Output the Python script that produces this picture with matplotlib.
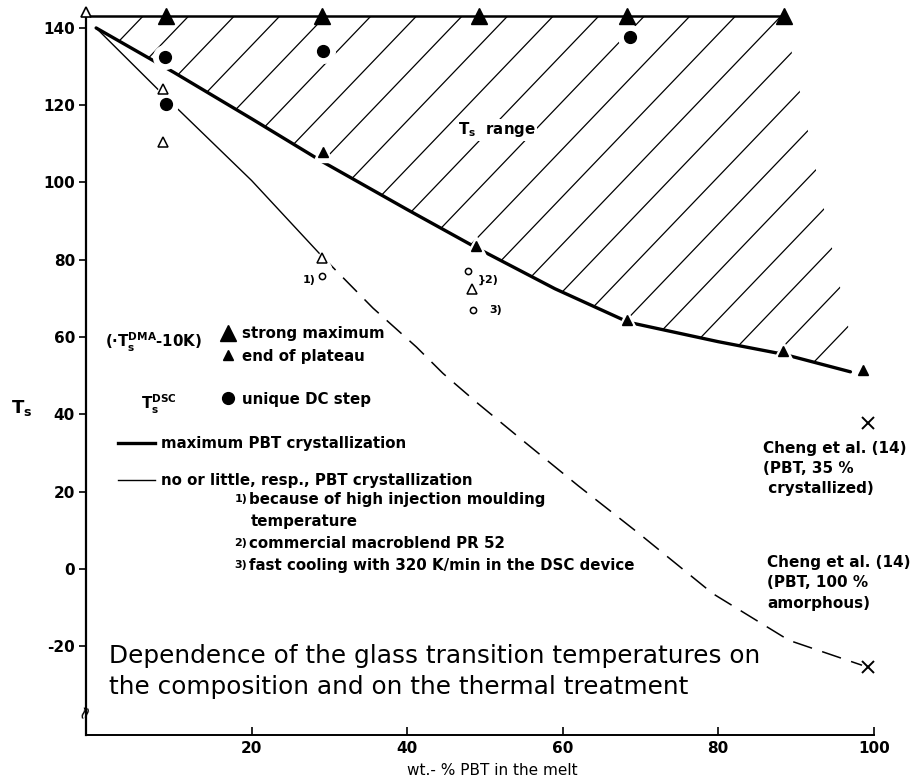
import numpy as np
import matplotlib
matplotlib.use('Agg')
import matplotlib.pyplot as plt
from matplotlib.patches import Polygon

plt.rcParams['font.family'] = ['DejaVu Sans']
plt.rcParams['mathtext.default'] = 'regular'
plt.rcParams['axes.unicode_minus'] = False

# DMA, strong maximum (upper limit of the Ts range)
x_strong = [9.0, 29.0, 49.2, 68.3, 88.5]
t_strong = [143, 143, 143, 143, 143]
# DMA, end of plateau
x_plateau = [29.2, 48.8, 68.3, 88.3, 98.6]
t_plateau = [108.0, 83.5, 64.5, 56.5, 51.5]
# DSC, unique DC step
x_dc = [8.9, 9.0, 29.2, 68.6]
t_dc = [132.5, 120.3, 134.0, 137.7]
# special samples (open symbols)
x_open_tri = [8.6, 8.6, 29.0, 48.3]
t_open_tri = [124.2, 110.5, 80.5, 72.5]
x_open_circ = [29.0, 47.8, 48.4]
t_open_circ = [75.8, 77.0, 67.0]
# Cheng et al. (14), pure PBT
x_cheng = [99.3, 99.3]
t_cheng = [37.7, -25.5]

# maximum PBT crystallization
x_max = [0, 10, 20, 29, 40, 49, 59, 68.5, 80, 88.5, 97]
t_max = [140, 128.5, 116.5, 105.5, 93, 83, 72.5, 63.8, 58.8, 55.5, 51]
# no or little crystallization
x_min = [0, 10, 20, 29]
t_min = [140, 120, 100.5, 81]
x_min_ext = [29, 35.6, 41.2, 44.6, 49.1, 55, 62, 69.9, 79.3, 89.1, 99.3]
t_min_ext = [81, 67.5, 57.4, 50.6, 42.8, 33, 21.5, 9.0, -6.4, -18.5, -25.5]

x_ticks = [20, 40, 60, 80, 100]
y_ticks = [140, 120, 100, 80, 60, 40, 20, 0, -20]

fig = plt.figure(figsize=(9.18, 7.82), dpi=100)
ax = fig.add_axes([0.0937, 0.0601, 0.892, 0.9338])
ax.set_xlim(-1.3, 104)
ax.set_ylim(-43, 146)

for s in ['top', 'right']:
    ax.spines[s].set_visible(False)
ax.spines['left'].set_bounds(-43, 143.5)
ax.spines['bottom'].set_bounds(-1.3, 100)
ax.spines['left'].set_linewidth(1.6)
ax.spines['bottom'].set_linewidth(1.4)

ax.set_xticks(x_ticks)
ax.set_yticks(y_ticks)
ax.tick_params(axis='x', direction='in', length=6, width=1.2, pad=4, labelsize=11)
ax.tick_params(axis='y', direction='out', length=5, width=1.2, pad=3, labelsize=11)
for lab in ax.get_xticklabels() + ax.get_yticklabels():
    lab.set_fontweight('bold')

# arrow head and axis break on the ordinate
ax.plot([-1.3], [144.2], marker='^', ms=7, mfc='white', mec='black', mew=1.2,
        clip_on=False, zorder=6)
ax.text(-1.3, -37, '\u2248', rotation=75, ha='center', va='center', fontsize=13,
        zorder=6)

# hatched Ts range
top_t = 143
region = Polygon(list(zip([0, 88.5, 97.5], [top_t, top_t, 55])) +
                 list(zip(x_max[::-1], t_max[::-1])),
                 closed=True, facecolor='none', edgecolor='none')
ax.add_patch(region)
slope = 2.1
for xt in np.arange(6, 142, 5.86):
    xs = np.array([xt - 70, xt + 5])
    ln, = ax.plot(xs, top_t + slope * (xs - xt), color='black', lw=0.9, zorder=1)
    ln.set_clip_path(region)

ax.plot(x_max, t_max, color='black', lw=2.4, solid_capstyle='round', zorder=2)
ax.plot(x_min, t_min, color='black', lw=1.0, zorder=2)
ax.plot(x_min_ext, t_min_ext, color='black', lw=1.1, ls=(0, (13, 7)), zorder=2)

# white halos break the lines around the symbols
halo = dict(color='white', ls='none', zorder=3)
ax.plot(x_plateau, t_plateau, marker='^', ms=14, **halo)
ax.plot(x_dc, t_dc, marker='o', ms=17, **halo)
ax.plot(x_open_tri, t_open_tri, marker='^', ms=13, **halo)
ax.plot(x_open_circ, t_open_circ, marker='o', ms=10, **halo)
ax.plot(x_cheng, t_cheng, marker='o', ms=9, **halo)

ax.plot([-0.6, x_strong[-1]], [top_t, top_t], color='black', lw=1.8, zorder=4)

ax.plot(x_strong, t_strong, ls='none', marker='^', ms=12, color='black', zorder=5)
ax.plot(x_plateau, t_plateau, ls='none', marker='^', ms=7.5, color='black', zorder=5)
ax.plot(x_dc, t_dc, ls='none', marker='o', ms=8.5, color='black', zorder=5)
ax.plot(x_open_tri, t_open_tri, ls='none', marker='^', ms=6.5, mfc='white',
        mec='black', mew=1.1, zorder=5)
ax.plot(x_open_circ, t_open_circ, ls='none', marker='o', ms=4.5, mfc='white',
        mec='black', mew=1.1, zorder=5)
ax.plot(x_cheng, t_cheng, ls='none', marker='x', ms=8, mew=1.4, color='black',
        zorder=5, clip_on=False)

bold = dict(fontsize=10.8, fontweight='bold', va='center', zorder=6)
ax.text(46.5, 113.6, '$T_s$  range', ha='left',
        bbox=dict(fc='white', ec='none', pad=1), **bold)
small = dict(fontsize=8, fontweight='bold', va='center', zorder=6)
ax.text(26.6, 74.8, '1)', ha='left', **small)
ax.text(49.1, 74.8, '}2)', ha='left', **small)
ax.text(50.6, 67.0, '3)', ha='left', **small)

# key
ax.text(1.1, 58.5, '(\u00b7$T_s^{DMA}$-10K)', ha='left', **bold)
ax.plot([16.9], [61.1], marker='^', ms=12, color='black')
ax.text(18.7, 61.0, 'strong maximum', ha='left', **bold)
ax.plot([16.9], [55.3], marker='^', ms=7.5, color='black')
ax.text(18.7, 55.0, 'end of plateau', ha='left', **bold)
ax.text(5.8, 42.5, '$T_s^{DSC}$', ha='left', **bold)
ax.plot([16.9], [44.1], marker='o', ms=8.5, color='black')
ax.text(18.7, 43.8, 'unique DC step', ha='left', **bold)

ax.plot([2.8, 7.6], [32.5, 32.5], color='black', lw=2.4)
ax.text(8.4, 32.5, 'maximum PBT crystallization', ha='left', **bold)
ax.plot([2.8, 7.6], [22.9, 22.9], color='black', lw=1.0)
ax.text(8.4, 22.9, 'no or little, resp., PBT crystallization', ha='left', **bold)
ax.text(17.8, 18.0, '1)', ha='left', **small)
ax.text(19.6, 18.0, 'because of high injection moulding', ha='left', **bold)
ax.text(19.9, 12.3, 'temperature', ha='left', **bold)
ax.text(17.8, 6.6, '2)', ha='left', **small)
ax.text(19.6, 6.6, 'commercial macroblend PR 52', ha='left', **bold)
ax.text(17.8, 1.0, '3)', ha='left', **small)
ax.text(19.6, 1.0, 'fast cooling with 320 K/min in the DSC device', ha='left', **bold)

ax.text(85.7, 33.2, 'Cheng et al. (14)\n(PBT, 35 %\n crystallized)', ha='left',
        va='top', fontsize=11, fontweight='bold', linespacing=1.45)
ax.text(86.3, 3.6, 'Cheng et al. (14)\n(PBT, 100 %\namorphous)', ha='left',
        va='top', fontsize=11, fontweight='bold', linespacing=1.45)

ax.text(1.7, -26.6, 'Dependence of the glass transition temperatures on\n'
        'the composition and on the thermal treatment', ha='left', va='center',
        fontsize=17.8, linespacing=1.35)

ax.text(-9.6, 41.6, '$T_s$', ha='center', va='center', fontsize=13,
        fontweight='bold', clip_on=False)
ax.text(51, -52.2, 'wt.- % PBT in the melt', ha='center', va='center',
        fontsize=11, clip_on=False)

fig.savefig('out.png', dpi=100)
